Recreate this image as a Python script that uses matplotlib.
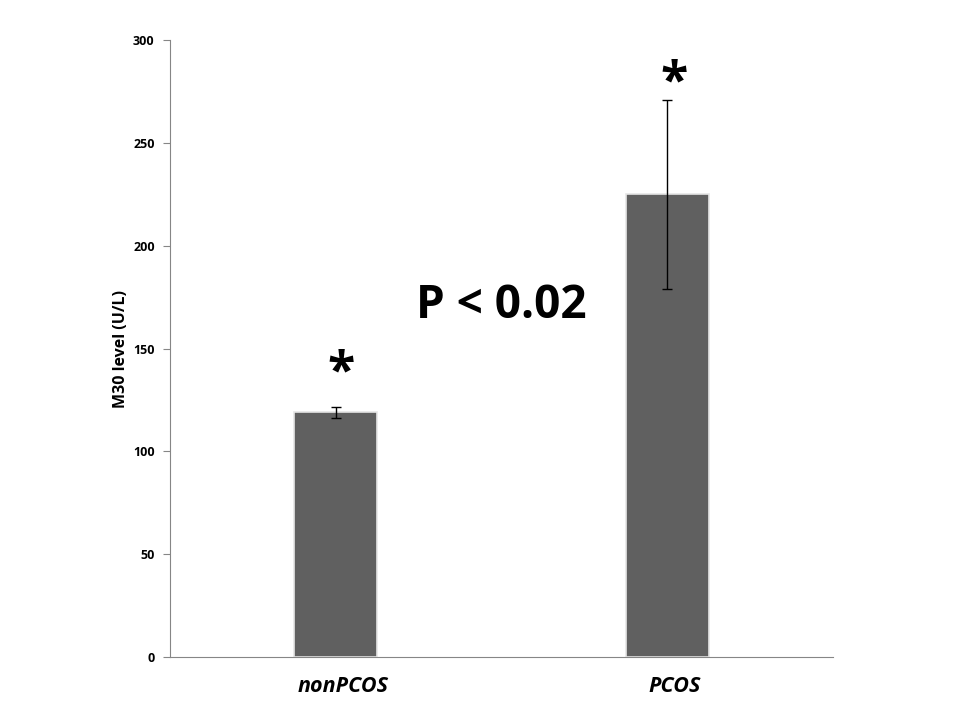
import numpy as np
import matplotlib.pyplot as plt
import matplotlib.transforms as mtransforms

plt.rcParams['font.family'] = ['Open Sans', 'DejaVu Sans']

groups = ['nonPCOS', 'PCOS']
means = [119, 225]
errors = [2.7, 46]
yticks = [0, 50, 100, 150, 200, 250, 300]

fig = plt.figure(figsize=(9.6, 7.2), dpi=100)
ax = fig.add_axes([0.177, 0.0875, 0.691, 0.8569])

x = np.arange(len(groups))
ax.bar(x, means, width=0.25, color='#606060', edgecolor='#e6e6e6', linewidth=1.2,
       yerr=errors, capsize=3.5, error_kw=dict(ecolor='black', elinewidth=1, capthick=1))

ax.set_xlim(-0.5, 1.5)
ax.set_ylim(0, 300)
ax.set_yticks(yticks)
ax.set_yticklabels([str(t) for t in yticks], fontsize=9, fontweight='bold')
ax.set_xticks(x)
ax.set_xticklabels(groups, fontsize=15.5, fontweight='bold', fontstyle='italic')
ax.tick_params(axis='x', length=0, pad=14)
ax.tick_params(axis='y', length=5, color='#868686', pad=6)

# labels sit a little right of the bar centres in the original
shift = mtransforms.ScaledTranslation(7 / 100, 0, fig.dpi_scale_trans)
for lbl in ax.get_xticklabels():
    lbl.set_transform(lbl.get_transform() + shift)

for s in ['top', 'right']:
    ax.spines[s].set_visible(False)
for s in ['left', 'bottom']:
    ax.spines[s].set_color('#868686')

ax.set_ylabel('M30 level (U/L)', fontsize=11.5, fontweight='bold', labelpad=3)

# significance marks
ax.text(0.015, 138, '*', fontsize=36, fontweight='bold', ha='center', va='center')
ax.text(1.02, 279, '*', fontsize=36, fontweight='bold', ha='center', va='center')
ax.text(0.5, 171, 'P < 0.02', fontsize=33, fontweight='bold', ha='center', va='center')

fig.savefig('out.png', dpi=100)
